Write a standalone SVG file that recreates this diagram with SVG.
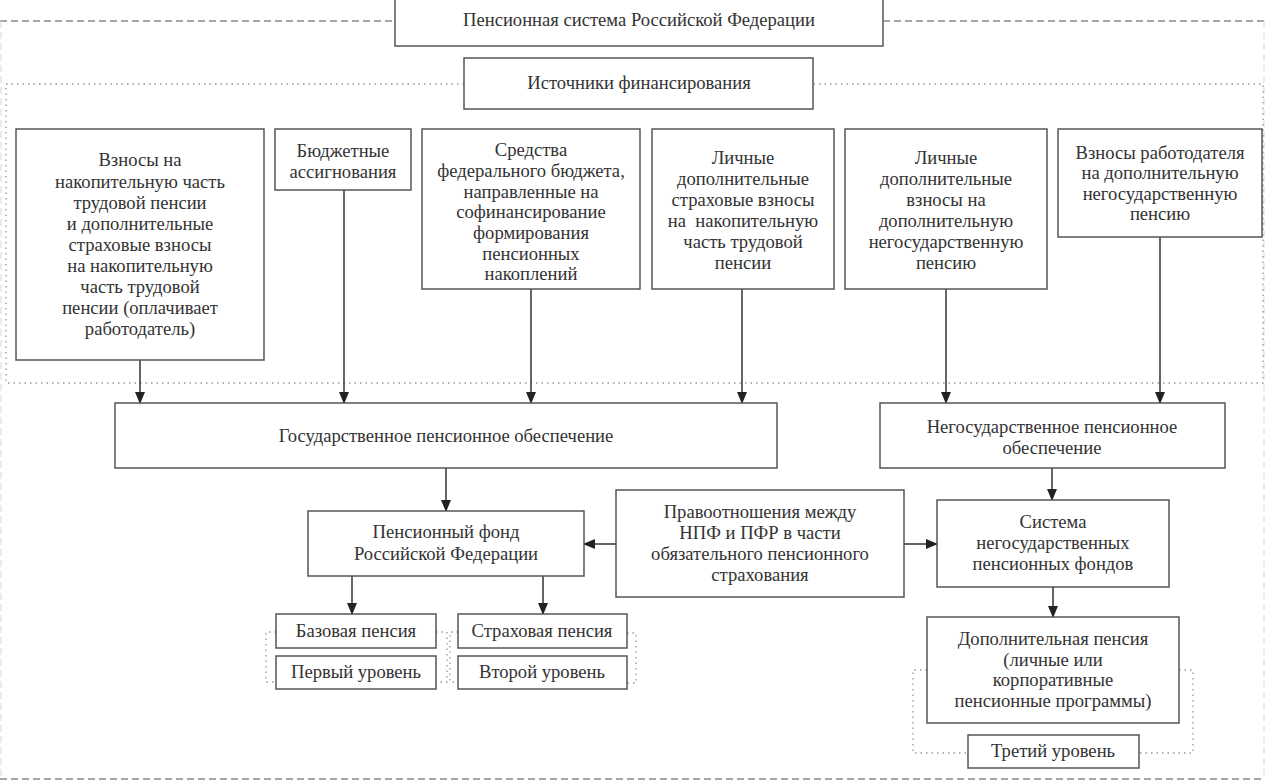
<svg xmlns="http://www.w3.org/2000/svg" width="1265" height="782" viewBox="0 0 1265 782">
<defs>
<marker id="arr" markerWidth="12" markerHeight="12" refX="11" refY="5" orient="auto" markerUnits="userSpaceOnUse" viewBox="0 0 12 10">
<path d="M0,0 L12,5 L0,10 Z" fill="#222"/>
</marker>
</defs>
<style>
rect.n{fill:#fff;stroke:#555;stroke-width:1.5}
text{font-family:'Liberation Serif','DejaVu Serif','Noto Serif','Times New Roman',serif;font-size:18.6px;fill:#333;text-anchor:middle}
.c{stroke:#333;stroke-width:1.5;fill:none}
.dash{stroke:#888;stroke-width:1.6;stroke-dasharray:7,4;fill:none}
.side{stroke:#ddd;stroke-width:1.2;stroke-dasharray:7,4;fill:none}
.dot{stroke:#999;stroke-width:1.3;stroke-dasharray:1.5,4;fill:none}
</style>
<rect width="1265" height="782" fill="#fff"/>
<g id="frames">
<path class="dash" d="M0,21 H395 M883,21 H1265 M0,779 H1265"/>
<path class="side" d="M1,21 V779 M1264,21 V779"/>
<path class="dot" d="M464,84 H6 V383 H1263 V84 H813"/>
<path class="dot" d="M276,632 H266 V682 H276 M436,632 H447 V682 H436 M458,632 H450 V682 H458 M627,633 H636 V683 H627"/>
<path class="dot" d="M927,670 H913 V753 H968 M1179,670 H1193 V753 H1139"/>
</g>
<g id="connectors">
<line class="c" x1="140" y1="360" x2="140" y2="403" marker-end="url(#arr)"/>
<line class="c" x1="344" y1="190" x2="344" y2="403" marker-end="url(#arr)"/>
<line class="c" x1="531" y1="289" x2="531" y2="403" marker-end="url(#arr)"/>
<line class="c" x1="742" y1="289" x2="742" y2="403" marker-end="url(#arr)"/>
<line class="c" x1="946" y1="289" x2="946" y2="403" marker-end="url(#arr)"/>
<line class="c" x1="1160" y1="237" x2="1160" y2="403" marker-end="url(#arr)"/>
<line class="c" x1="446" y1="468" x2="446" y2="511" marker-end="url(#arr)"/>
<line class="c" x1="1052" y1="468" x2="1052" y2="500" marker-end="url(#arr)"/>
<line class="c" x1="1053" y1="587" x2="1053" y2="617" marker-end="url(#arr)"/>
<line class="c" x1="616" y1="544" x2="584" y2="544" marker-end="url(#arr)"/>
<line class="c" x1="904" y1="544" x2="937" y2="544" marker-end="url(#arr)"/>
<line class="c" x1="352" y1="576" x2="352" y2="614" marker-end="url(#arr)"/>
<line class="c" x1="543" y1="576" x2="543" y2="614" marker-end="url(#arr)"/>
</g>
<g id="title"><rect class="n" x="395" y="-2" width="488" height="48"/><text x="639" y="26">Пенсионная система Российской Федерации</text></g>
<g id="sources"><rect class="n" x="464" y="58" width="349" height="51"/><text x="639" y="89">Источники финансирования</text></g>
<g id="src1"><rect class="n" x="16" y="129" width="248" height="231"/>
<text x="140" y="166">Взносы на</text><text x="140" y="188">накопительную часть</text><text x="140" y="209">трудовой пенсии</text><text x="140" y="230">и дополнительные</text><text x="140" y="251">страховые взносы</text><text x="140" y="272">на накопительную</text><text x="140" y="293">часть трудовой</text><text x="140" y="314">пенсии (оплачивает</text><text x="140" y="335">работодатель)</text></g>
<g id="src2"><rect class="n" x="275" y="129" width="136" height="61"/><text x="343" y="157">Бюджетные</text><text x="343" y="178">ассигнования</text></g>
<g id="src3"><rect class="n" x="422" y="129" width="218" height="160"/>
<text x="531" y="156">Средства</text><text x="531" y="177">федерального бюджета,</text><text x="531" y="198">направленные на</text><text x="531" y="218">софинансирование</text><text x="531" y="239">формирования</text><text x="531" y="260">пенсионных</text><text x="531" y="280">накоплений</text></g>
<g id="src4"><rect class="n" x="652" y="129" width="182" height="160"/>
<text x="743" y="164">Личные</text><text x="743" y="185">дополнительные</text><text x="743" y="206">страховые взносы</text><text x="743" y="227" xml:space="preserve">на  накопительную</text><text x="743" y="248">часть трудовой</text><text x="743" y="269">пенсии</text></g>
<g id="src5"><rect class="n" x="845" y="129" width="202" height="160"/>
<text x="946" y="164">Личные</text><text x="946" y="185">дополнительные</text><text x="946" y="206">взносы на</text><text x="946" y="227">дополнительную</text><text x="946" y="248">негосударственную</text><text x="946" y="269">пенсию</text></g>
<g id="src6"><rect class="n" x="1058" y="129" width="204" height="108"/>
<text x="1160" y="159">Взносы работодателя</text><text x="1160" y="179">на дополнительную</text><text x="1160" y="200">негосударственную</text><text x="1160" y="220">пенсию</text></g>
<g id="gov"><rect class="n" x="115" y="403" width="662" height="65"/><text x="446" y="442">Государственное пенсионное обеспечение</text></g>
<g id="nongov"><rect class="n" x="880" y="403" width="345" height="65"/><text x="1052" y="433">Негосударственное пенсионное</text><text x="1052" y="454">обеспечение</text></g>
<g id="pfr"><rect class="n" x="308" y="511" width="276" height="65"/><text x="446" y="538">Пенсионный фонд</text><text x="446" y="560">Российской Федерации</text></g>
<g id="pravo"><rect class="n" x="616" y="490" width="288" height="107"/>
<text x="760" y="518">Правоотношения между</text><text x="760" y="539">НПФ и ПФР в части</text><text x="760" y="560">обязательного пенсионного</text><text x="760" y="581">страхования</text></g>
<g id="npf"><rect class="n" x="937" y="500" width="232" height="87"/>
<text x="1053" y="528">Система</text><text x="1053" y="549">негосударственных</text><text x="1053" y="570">пенсионных фондов</text></g>
<g id="dop"><rect class="n" x="927" y="617" width="252" height="106"/>
<text x="1053" y="645">Дополнительная пенсия</text><text x="1053" y="666">(личные или</text><text x="1053" y="686">корпоративные</text><text x="1053" y="707">пенсионные программы)</text></g>
<g id="level3"><rect class="n" x="968" y="735" width="171" height="33"/><text x="1053" y="757">Третий уровень</text></g>
<g id="base"><rect class="n" x="276" y="614" width="160" height="34"/><text x="356" y="637">Базовая пенсия</text></g>
<g id="level1"><rect class="n" x="276" y="656" width="160" height="33"/><text x="356" y="678">Первый уровень</text></g>
<g id="strakh"><rect class="n" x="458" y="614" width="169" height="34"/><text x="542" y="637">Страховая пенсия</text></g>
<g id="level2"><rect class="n" x="458" y="656" width="169" height="33"/><text x="542" y="678">Второй уровень</text></g>
</svg>
